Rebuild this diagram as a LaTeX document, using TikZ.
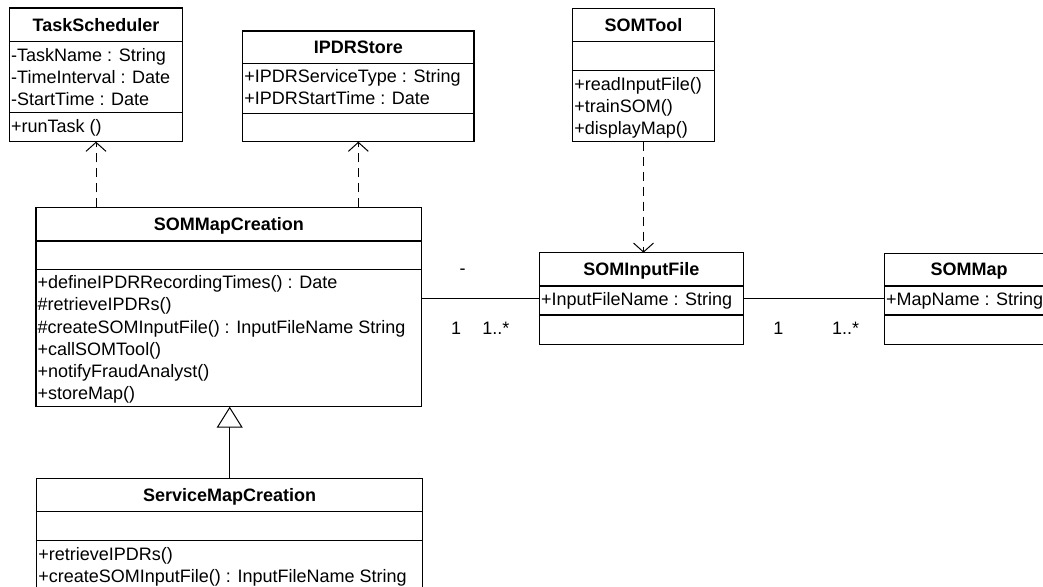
\documentclass[tikz,border=0pt]{standalone}
\usepackage{fontspec}
\setmainfont{Liberation Sans}
\usetikzlibrary{arrows.meta}

\tikzset{
  every node/.style={font=\fontsize{18}{22}\selectfont},
  box/.style={draw, line width=1.5pt, inner sep=0pt, outer sep=0pt, anchor=north west},
  divider/.style={line width=1.5pt},
  cname/.style={font=\fontsize{18}{22}\selectfont\bfseries, anchor=base, inner sep=0pt},
  member/.style={anchor=base west, inner sep=0pt},
  mult/.style={anchor=base, inner sep=0pt},
  dep/.style={line width=1pt, dash pattern=on 9pt off 6pt,
    -{Straight Barb[length=9pt,width=20pt,line width=1pt]}},
  assoc/.style={line width=1pt},
  gen/.style={line width=1pt,
    -{Triangle[length=21pt,width=26pt,line width=1pt,fill=white]}},
}

% class box: name, left, right, top, header bottom, attribute bottom, bottom, title
\newcommand{\umlclass}[8]{%
  \node[box, minimum width={(#3-#2)*1pt}, minimum height={(#7-#4)*1pt}] (#1) at (#2,#4) {};
  \draw[divider] (#2,#5) -- (#3,#5);
  \draw[divider] (#2,#6) -- (#3,#6);
  \node[cname] (#1-name) at ({(#2+#3)/2},{(#4+#5)/2+6.2}) {#8};
}

\begin{document}
\begin{tikzpicture}[x=1pt,y=-1pt]
\useasboundingbox (0,0) rectangle (1043,586);
\clip (0,0) rectangle (1043,586);
\fill[white] (0,0) rectangle (1043,586);

% TaskScheduler
\umlclass{ts}{9.5}{182.5}{8}{41.7}{112.7}{141.7}{TaskScheduler}
\node[member] (ts-a1) at (11,61) {-TaskName : String};
\node[member] (ts-a2) at (11,83) {-TimeInterval : Date};
\node[member] (ts-a3) at (11,105) {-StartTime : Date};
\node[member] (ts-o1) at (11,132) {+runTask ()};

% IPDRStore
\umlclass{ipdr}{242.7}{474}{31}{63.3}{113.3}{141.7}{IPDRStore}
\node[member] (ipdr-a1) at (244.2,82.6) {+IPDRServiceType : String};
\node[member] (ipdr-a2) at (244.2,104.6) {+IPDRStartTime : Date};

% SOMTool
\umlclass{somtool}{572.7}{714.3}{8.3}{41.7}{70.7}{141.7}{SOMTool}
\node[member] (somtool-o1) at (574.2,90) {+readInputFile()};
\node[member] (somtool-o2) at (574.2,112) {+trainSOM()};
\node[member] (somtool-o3) at (574.2,134) {+displayMap()};

% SOMMapCreation
\umlclass{smc}{36}{421.7}{207.3}{241}{269.3}{406.7}{SOMMapCreation}
\node[member] (smc-o1) at (37.5,288.8) {+defineIPDRRecordingTimes() : Date};
\node[member] (smc-o2) at (37.5,310.9) {\#retrieveIPDRs()};
\node[member] (smc-o3) at (37.5,333.1) {\#createSOMInputFile() : InputFileName String};
\node[member] (smc-o4) at (37.5,355.2) {+callSOMTool()};
\node[member] (smc-o5) at (37.5,377.4) {+notifyFraudAnalyst()};
\node[member] (smc-o6) at (37.5,399.5) {+storeMap()};

% SOMInputFile
\umlclass{sif}{539.3}{743.5}{252.7}{286}{315}{344.5}{SOMInputFile}
\node[member] (sif-a1) at (540.8,305.2) {+InputFileName : String};

% SOMMap
\umlclass{sommap}{884.3}{1054}{253.3}{286}{315}{344.7}{SOMMap}
\node[member] (sommap-a1) at (885.8,305.2) {+MapName : String};

% ServiceMapCreation
\umlclass{svc}{36.7}{422.7}{478.3}{511.7}{540.7}{620}{ServiceMapCreation}
\node[member] (svc-o1) at (38.2,560) {+retrieveIPDRs()};
\node[member] (svc-o2) at (38.2,582.3) {+createSOMInputFile() : InputFileName String};

% dependencies
\draw[dep] (ts.south |- smc.north) -- (ts.south);
\draw[dep] (ipdr.south |- smc.north) -- (ipdr.south);
\draw[dep] (somtool.south) -- (somtool.south |- sif.north);

% generalization
\draw[gen] (svc.north) -- (svc.north |- smc.south);

% associations
\draw[assoc] (smc.east |- sif.west) -- (sif.west);
\draw[assoc] (sif.east) -- (sif.east -| sommap.west);

% multiplicities
\node[mult] (m-dash) at (462.7,274) {-};
\node[mult] (m-one-a) at (456,334.5) {1};
\node[mult] (m-many-a) at (495.8,334.5) {1..*};
\node[mult] (m-one-b) at (778.3,334.5) {1};
\node[mult] (m-many-b) at (845.5,334.5) {1..*};
\end{tikzpicture}
\end{document}
